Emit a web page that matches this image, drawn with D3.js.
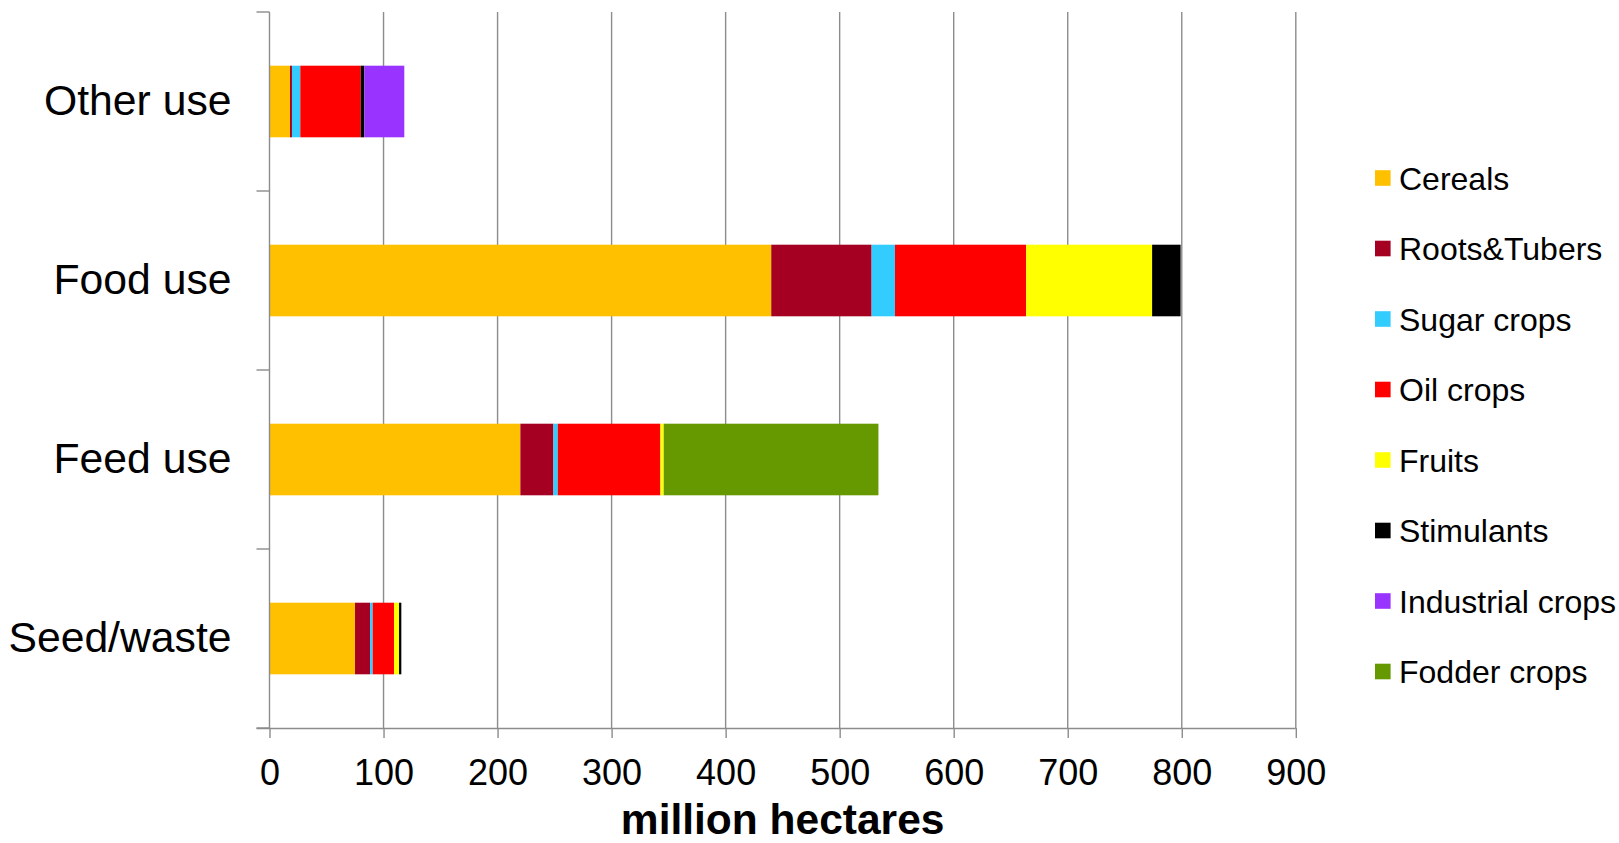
<!DOCTYPE html>
<html>
<head>
<meta charset="utf-8">
<script src="https://cdn.jsdelivr.net/npm/d3@7"></script>
<style>
  html, body { margin: 0; padding: 0; background: #fff; }
  svg { display: block; font-family: "Liberation Sans", Arial, sans-serif; }
</style>
</head>
<body>
<svg id="chart" width="1619" height="843"></svg>
<script>
// Land use by destination, million hectares, split by crop group
const categories = ["Other use", "Food use", "Feed use", "Seed/waste"];
const cropGroups = ["Cereals", "Roots&Tubers", "Sugar crops", "Oil crops", "Fruits", "Stimulants", "Industrial crops", "Fodder crops"];
const cropColors = ["#FFC000", "#A50021", "#33CCFF", "#FF0000", "#FFFF00", "#000000", "#9933FF", "#669900"];

const cereals    = [18,   440,   220,  75];
const roots      = [1.7,  88,    29,   13.2];
const sugar      = [7.3,  20.5,  3.8,  2.3];
const oil        = [53,   115,   90,   18.7];
const fruits     = [0,    110.5, 2.9,  4.4];
const stimulants = [3.2,  25,    0,    2];
const industrial = [35,   0,     0,    0];
const fodder     = [0,    0,     188.3, 0];

const xTicks = [0, 100, 200, 300, 400, 500, 600, 700, 800, 900];
const xTitle = "million hectares";

const seriesValues = [cereals, roots, sugar, oil, fruits, stimulants, industrial, fodder];
const rows = categories.map((c, i) => {
  const r = { category: c };
  cropGroups.forEach((g, j) => { r[g] = seriesValues[j][i]; });
  return r;
});

const svg = d3.select("#chart");
const plot = { left: 269.5, right: 1295.8, top: 12, bottom: 728 };

const x = d3.scaleLinear().domain([0, 900]).range([plot.left, plot.right]);
const y = d3.scaleBand().domain(categories).range([plot.top, plot.bottom])
  .paddingInner(0.6).paddingOuter(0.3);
const color = d3.scaleOrdinal().domain(cropGroups).range(cropColors);

const gridColor = "#8c8c8c";

// vertical gridlines
svg.append("g").selectAll("line")
  .data(xTicks.slice(1))
  .join("line")
  .attr("x1", d => x(d)).attr("x2", d => x(d))
  .attr("y1", plot.top).attr("y2", plot.bottom)
  .attr("stroke", gridColor).attr("stroke-width", 1.4);

// stacked bars
const stacked = d3.stack().keys(cropGroups)(rows);
svg.append("g").selectAll("g")
  .data(stacked)
  .join("g")
  .attr("fill", d => color(d.key))
  .selectAll("rect")
  .data(d => d.filter(s => s[1] - s[0] > 0))
  .join("rect")
  .attr("x", d => x(d[0]))
  .attr("width", d => x(d[1]) - x(d[0]))
  .attr("y", d => y(d.data.category))
  .attr("height", y.bandwidth());

// x axis
const xAxis = svg.append("g")
  .attr("transform", `translate(0,${plot.bottom})`)
  .call(d3.axisBottom(x).tickValues(xTicks).tickSize(10).tickSizeOuter(0).tickPadding(4));
xAxis.select(".domain").attr("stroke", gridColor).attr("stroke-width", 1.4)
  .attr("d", `M${plot.left - 13},0.5H${plot.right}`);
xAxis.selectAll(".tick line").attr("stroke", gridColor).attr("stroke-width", 1.4);
xAxis.selectAll(".tick text")
  .attr("font-size", 36).attr("fill", "#000")
  .attr("font-family", "'Liberation Sans', Arial, sans-serif")
  .attr("dy", null).attr("y", 57);

// y axis with boundary ticks between categories
const yAxis = svg.append("g");
yAxis.append("line")
  .attr("x1", plot.left).attr("x2", plot.left)
  .attr("y1", plot.top).attr("y2", plot.bottom)
  .attr("stroke", gridColor).attr("stroke-width", 1.4);
const boundaries = d3.range(categories.length + 1).map(i => plot.top + i * y.step());
yAxis.selectAll("line.tk")
  .data(boundaries)
  .join("line")
  .attr("class", "tk")
  .attr("x1", plot.left - 13).attr("x2", plot.left)
  .attr("y1", d => d).attr("y2", d => d)
  .attr("stroke", gridColor).attr("stroke-width", 1.4);
yAxis.selectAll("text")
  .data(categories)
  .join("text")
  .attr("x", plot.left - 38)
  .attr("y", d => y(d) + y.bandwidth() / 2)
  .attr("dy", "0.31em")
  .attr("text-anchor", "end")
  .attr("font-size", 42.7)
  .attr("fill", "#000")
  .text(d => d);

// axis title
svg.append("text")
  .attr("x", (plot.left + plot.right) / 2)
  .attr("y", 834)
  .attr("text-anchor", "middle")
  .attr("font-size", 42.5)
  .attr("font-weight", "bold")
  .attr("fill", "#000")
  .text(xTitle);

// legend
const legend = svg.append("g").attr("transform", "translate(1375,178)");
const item = legend.selectAll("g")
  .data(cropGroups)
  .join("g")
  .attr("transform", (d, i) => `translate(0,${i * 70.5})`);
item.append("rect")
  .attr("x", 0).attr("y", -7.8)
  .attr("width", 15.6).attr("height", 15.6)
  .attr("fill", d => color(d));
item.append("text")
  .attr("x", 24).attr("y", 0)
  .attr("dy", "0.36em")
  .attr("font-size", 32)
  .attr("fill", "#000")
  .text(d => d);
</script>
</body>
</html>
